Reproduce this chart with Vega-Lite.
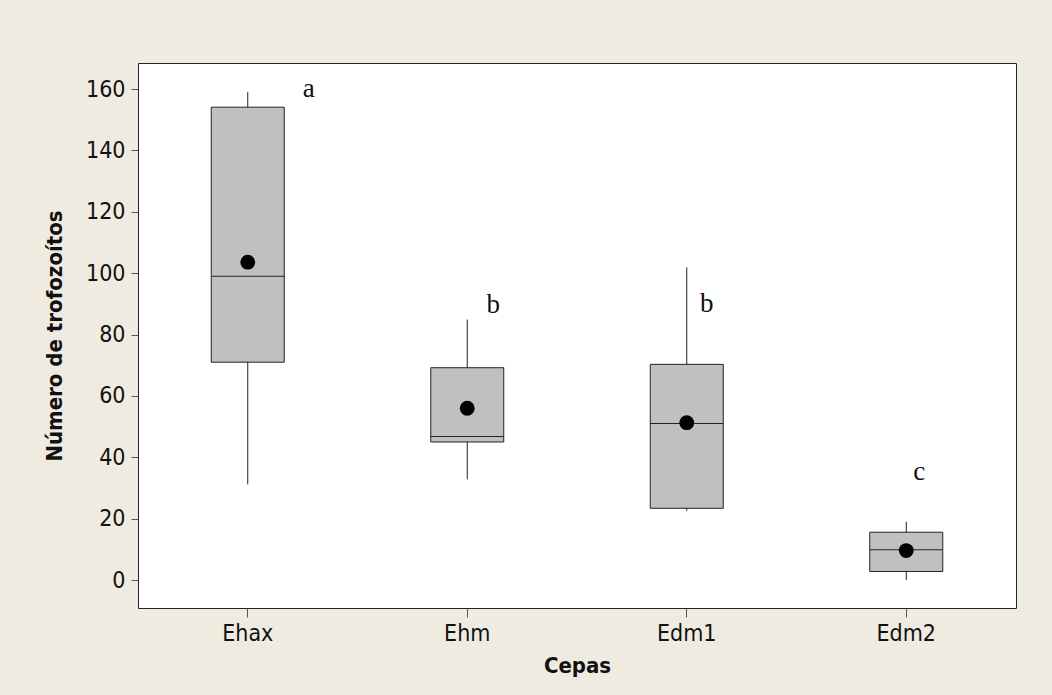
{
  "$schema": "https://vega.github.io/schema/vega-lite/v6.json",
  "width": 878,
  "height": 545,
  "autosize": {"type": "none"},
  "padding": {"left": 138, "top": 63, "right": 36, "bottom": 87},
  "background": "#EFEBE1",
  "config": {
    "view": {"fill": "white", "stroke": "#222", "strokeWidth": 1},
    "font": "DejaVu Sans Condensed",
    "axis": {
      "labelFont": "DejaVu Sans Condensed",
      "titleFont": "DejaVu Sans Condensed",
      "labelFontSize": 23,
      "labelColor": "#111",
      "titleFontSize": 22,
      "titleFontWeight": "bold",
      "titleColor": "#111",
      "tickColor": "#555",
      "domain": false,
      "grid": false
    }
  },
  "data": {
    "values": [
      {"cepa": "Ehax", "min": 31.2, "q1": 71.0, "median": 99.0, "q3": 154.1, "max": 159.0, "mean": 103.6, "letra": "a", "letra_y": 157.5},
      {"cepa": "Ehm", "min": 32.8, "q1": 45.0, "median": 46.8, "q3": 69.2, "max": 84.9, "mean": 56.0, "letra": "b", "letra_y": 87.1},
      {"cepa": "Edm1", "min": 22.6, "q1": 23.4, "median": 51.0, "q3": 70.3, "max": 101.9, "mean": 51.3, "letra": "b", "letra_y": 87.3},
      {"cepa": "Edm2", "min": 0.0, "q1": 2.8, "median": 9.9, "q3": 15.6, "max": 19.0, "mean": 9.6, "letra": "c", "letra_y": 32.6}
    ]
  },
  "encoding": {
    "x": {
      "field": "cepa",
      "type": "nominal",
      "sort": ["Ehax", "Ehm", "Edm1", "Edm2"],
      "scale": {"paddingInner": 0, "paddingOuter": 0},
      "axis": {"title": "Cepas", "labelAngle": 0, "tickSize": 9, "labelPadding": 5, "titlePadding": 10}
    }
  },
  "layer": [
    {
      "mark": {"type": "rule", "color": "#222", "strokeWidth": 1},
      "encoding": {
        "y": {
          "field": "min",
          "type": "quantitative",
          "scale": {"domain": [-9.1, 168.5], "nice": false, "zero": false},
          "axis": {"title": "Número de trofozoítos", "values": [0, 20, 40, 60, 80, 100, 120, 140, 160], "tickSize": 7, "labelPadding": 6, "titlePadding": 19}
        },
        "y2": {"field": "max"}
      }
    },
    {
      "mark": {"type": "bar", "size": 73, "fill": "#C0C0C0", "stroke": "#222", "strokeWidth": 1},
      "encoding": {
        "y": {"field": "q1", "type": "quantitative"},
        "y2": {"field": "q3"}
      }
    },
    {
      "mark": {"type": "tick", "size": 73, "thickness": 1, "color": "#222", "opacity": 1},
      "encoding": {
        "y": {"field": "median", "type": "quantitative"}
      }
    },
    {
      "mark": {"type": "point", "filled": true, "size": 220, "color": "black", "opacity": 1},
      "encoding": {
        "y": {"field": "mean", "type": "quantitative"}
      }
    },
    {
      "transform": [{"filter": "datum.cepa === 'Ehax'"}],
      "mark": {"type": "text", "font": "Liberation Serif", "fontSize": 27, "baseline": "alphabetic", "align": "center", "dx": 61, "color": "#111"},
      "encoding": {"y": {"field": "letra_y", "type": "quantitative"}, "text": {"field": "letra"}}
    },
    {
      "transform": [{"filter": "datum.cepa === 'Ehm'"}],
      "mark": {"type": "text", "font": "Liberation Serif", "fontSize": 27, "baseline": "alphabetic", "align": "center", "dx": 26, "color": "#111"},
      "encoding": {"y": {"field": "letra_y", "type": "quantitative"}, "text": {"field": "letra"}}
    },
    {
      "transform": [{"filter": "datum.cepa === 'Edm1'"}],
      "mark": {"type": "text", "font": "Liberation Serif", "fontSize": 27, "baseline": "alphabetic", "align": "center", "dx": 20, "color": "#111"},
      "encoding": {"y": {"field": "letra_y", "type": "quantitative"}, "text": {"field": "letra"}}
    },
    {
      "transform": [{"filter": "datum.cepa === 'Edm2'"}],
      "mark": {"type": "text", "font": "Liberation Serif", "fontSize": 27, "baseline": "alphabetic", "align": "center", "dx": 13, "color": "#111"},
      "encoding": {"y": {"field": "letra_y", "type": "quantitative"}, "text": {"field": "letra"}}
    }
  ]
}
